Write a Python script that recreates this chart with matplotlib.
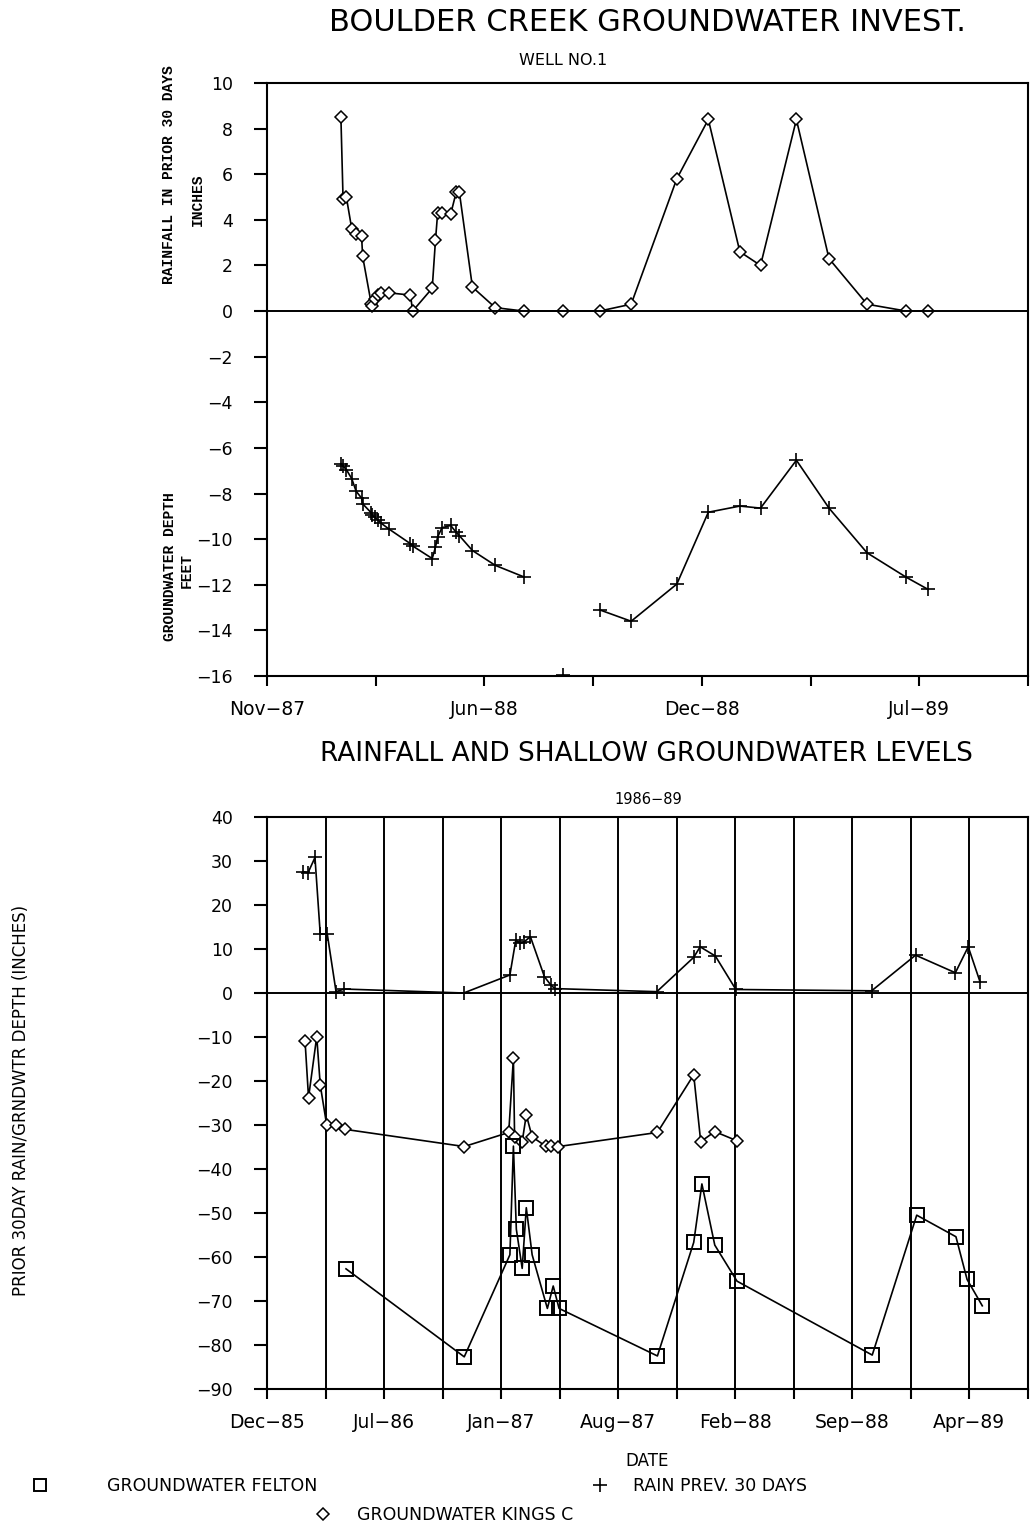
import matplotlib
matplotlib.use("Agg")
import matplotlib.pyplot as plt
import matplotlib.dates as mdates
from matplotlib.lines import Line2D
import numpy as np
import datetime as dt

# ---- top chart: Boulder Creek well no.1 ----
well_dates = ["1988-01-22", "1988-01-24", "1988-01-27", "1988-02-01", "1988-02-05",
              "1988-02-10", "1988-02-11", "1988-02-19", "1988-02-20", "1988-02-22",
              "1988-02-25", "1988-02-28", "1988-03-06", "1988-03-26", "1988-03-28",
              "1988-04-15", "1988-04-18", "1988-04-20", "1988-04-24", "1988-05-02",
              "1988-05-07", "1988-05-10", "1988-05-22", "1988-06-12", "1988-07-08",
              "1988-08-13", "1988-09-16", "1988-10-15", "1988-11-26", "1988-12-25",
              "1989-01-23", "1989-02-11", "1989-03-16", "1989-04-15", "1989-05-20",
              "1989-06-25", "1989-07-15"]
well_rain = [8.5, 4.9, 5.0, 3.6, 3.4, 3.3, 2.4, 0.3, 0.2, 0.55, 0.7, 0.8, 0.8, 0.7, 0.0,
             1.0, 3.1, 4.3, 4.3, 4.25, 5.2, 5.2, 1.05, 0.15, 0.0, 0.0, 0.0, 0.3, 5.8, 8.4,
             2.6, 2.0, 8.4, 2.3, 0.3, 0.0, 0.0]
well_depth = [-6.7, -6.8, -6.95, -7.35, -7.9, -8.2, -8.45, -8.85, -8.95, -9.05, -9.15,
              -9.3, -9.55, -10.2, -10.3, -10.85, -10.35, -9.9, -9.5, -9.4, -9.7, -9.85,
              -10.5, -11.15, -11.65, -15.95, -13.1, -13.6, -11.97, -8.82, -8.55, -8.64,
              -6.54, -8.64, -10.6, -11.67, -12.2]
well_gap = "1988-08-13"   # reading not joined to the line
top_start = dt.date(1987, 11, 15)

# ---- bottom chart: rainfall and shallow groundwater 1986-89 ----
rain_dates = ["1986-02-20", "1986-02-28", "1986-03-12", "1986-03-21", "1986-04-02",
              "1986-04-17", "1986-05-01", "1986-11-21", "1987-02-08", "1987-02-18",
              "1987-02-26", "1987-03-04", "1987-03-15", "1987-04-08", "1987-04-19",
              "1987-04-26", "1987-10-17", "1987-12-19", "1987-12-30", "1988-01-25",
              "1988-02-29", "1988-10-18", "1989-01-01", "1989-03-10", "1989-04-01",
              "1989-04-21"]
rain_30 = [27.6, 27.3, 30.8, 13.4, 13.4, 0.3, 0.9, 0.0, 4.1, 12.0, 11.3, 11.6, 12.8, 3.7,
           1.8, 1.0, 0.3, 8.1, 10.5, 8.4, 0.8, 0.5, 8.6, 4.6, 10.5, 2.6]

kings_dates = ["1986-02-23", "1986-03-01", "1986-03-15", "1986-03-21", "1986-04-01",
               "1986-04-17", "1986-05-03", "1986-11-22", "1987-02-06", "1987-02-14",
               "1987-02-16", "1987-03-01", "1987-03-08", "1987-03-18", "1987-04-10",
               "1987-04-20", "1987-05-02", "1987-10-18", "1987-12-19", "1987-12-31",
               "1988-01-24", "1988-03-02"]
kings_c = [-10.8, -23.8, -9.9, -20.9, -30.0, -30.0, -31.0, -34.9, -31.7, -14.8, -32.7,
           -33.8, -27.7, -32.7, -34.8, -34.8, -34.9, -31.7, -18.6, -33.8, -31.5, -33.6]

felton_dates = ["1986-05-04", "1986-11-22", "1987-02-08", "1987-02-14", "1987-02-19",
                "1987-03-01", "1987-03-08", "1987-03-18", "1987-04-13", "1987-04-23",
                "1987-05-03", "1987-10-18", "1987-12-19", "1988-01-02", "1988-01-24",
                "1988-03-02", "1988-10-19", "1989-01-03", "1989-03-11", "1989-03-30",
                "1989-04-25"]
felton = [-62.7, -82.7, -59.5, -34.8, -53.7, -62.6, -48.8, -59.5, -71.7, -66.6, -71.7,
          -82.5, -56.7, -43.4, -57.3, -65.5, -82.3, -50.5, -55.4, -65.1, -71.1]
bottom_start = dt.date(1985, 12, 20)


def to_num(dates):
    return mdates.datestr2num(dates)


def date_label(v):
    return mdates.num2date(v).strftime("%b-%y").replace("-", "\u2212")


xtick_font = {"family": "DejaVu Sans", "size": 13.5}
ytick_font = {"family": "DejaVu Sans", "size": 12.5}
lbl_font = {"family": "Liberation Mono", "size": 10.5, "weight": "bold"}


def style_axes(ax):
    ax.tick_params(axis="y", direction="out", length=9.5, width=1.5, pad=15)
    ax.tick_params(axis="x", direction="out", length=7, width=1.5, pad=10)
    for s in ax.spines.values():
        s.set_linewidth(1.5)


fig = plt.figure(figsize=(10.3, 15.28), dpi=100)

# ---------------- top axes ----------------
ax1 = fig.add_axes([0.2592, 0.5576, 0.7388, 0.3881])
x1 = to_num(well_dates)
depth = np.array(well_depth)
depth_line = depth.copy()
depth_line[list(well_dates).index(well_gap)] = np.nan

ax1.plot(x1, well_rain, color="black", lw=1.2, marker="D", ms=6.5,
         mfc="white", mec="black", mew=1.1)
ax1.plot(x1, depth_line, color="black", lw=1.2)
ax1.plot(x1, depth, ls="none", marker="+", ms=9.5, mec="black", mew=1.2)
ax1.axhline(0, color="black", lw=1.4)

t0 = mdates.date2num(top_start)
ax1.set_xlim(t0, t0 + 700)
ax1.set_ylim(-16, 10)
xt1 = [t0 + 100 * k for k in range(8)]
ax1.set_xticks(xt1)
ax1.set_xticklabels([date_label(v) if k % 2 == 0 and k < 7 else ""
                     for k, v in enumerate(xt1)], fontdict=xtick_font)
ax1.set_yticks(np.arange(-16, 11, 2))
ax1.set_yticklabels([f"{v:d}".replace("-", "\u2212") for v in range(-16, 11, 2)],
                    fontdict=ytick_font)
style_axes(ax1)

fig.text(0.629, 0.9855, "BOULDER CREEK GROUNDWATER INVEST.", ha="center", va="center",
         fontsize=22, family="DejaVu Sans")
fig.text(0.547, 0.9607, "WELL NO.1", ha="center", va="center", fontsize=11.5,
         family="DejaVu Sans")
fig.text(0.164, 1 - 175 / 1528, "RAINFALL IN PRIOR 30 DAYS", rotation=90,
         ha="center", va="center", **lbl_font)
fig.text(0.192, 1 - 200 / 1528, "INCHES", rotation=90, ha="center", va="center", **lbl_font)
fig.text(0.165, 1 - 567 / 1528, "GROUNDWATER DEPTH", rotation=90, ha="center",
         va="center", **lbl_font)
fig.text(0.1815, 1 - 570 / 1528, "FEET", rotation=90, ha="center", va="center", **lbl_font)

# ---------------- bottom axes ----------------
ax2 = fig.add_axes([0.2592, 0.0910, 0.7388, 0.3743])
b0 = mdates.date2num(bottom_start)
xt2 = [b0 + 100 * k for k in range(14)]
for v in xt2[1:-1]:
    ax2.axvline(v, color="black", lw=1.4, zorder=1)
ax2.axhline(0, color="black", lw=1.4, zorder=1)

ax2.plot(to_num(rain_dates), rain_30, color="black", lw=1.2, marker="+", ms=10,
         mew=1.2, zorder=3)
ax2.plot(to_num(kings_dates), kings_c, color="black", lw=1.2, marker="D", ms=6,
         mfc="white", mec="black", mew=1.1, zorder=3)
ax2.plot(to_num(felton_dates), felton, color="black", lw=1.2, marker="s", ms=10,
         mfc="none", mec="black", mew=1.4, zorder=3)

ax2.set_xlim(b0, b0 + 1300)
ax2.set_ylim(-90, 40)
ax2.set_xticks(xt2)
ax2.set_xticklabels([date_label(v) if k % 2 == 0 and k < 13 else ""
                     for k, v in enumerate(xt2)], fontdict=xtick_font)
ax2.set_yticks(np.arange(-90, 41, 10))
ax2.set_yticklabels([f"{v:d}".replace("-", "\u2212") for v in range(-90, 41, 10)],
                    fontdict=ytick_font)
style_axes(ax2)
ax2.set_xlabel("DATE", fontsize=12, family="DejaVu Sans", labelpad=15)

fig.text(0.628, 1 - 754 / 1528, "RAINFALL AND SHALLOW GROUNDWATER LEVELS", ha="center",
         va="center", fontsize=19, family="DejaVu Sans")
fig.text(0.629, 1 - 800 / 1528, "1986\u221289", ha="center", va="center", fontsize=10.5,
         family="DejaVu Sans")
fig.text(0.020, 1 - 1100 / 1528, "PRIOR 30DAY RAIN/GRNDWTR DEPTH (INCHES)", rotation=90,
         ha="center", va="center", fontsize=12, family="DejaVu Sans")

# legend entries laid out like the original plot
legend_items = [
    (Line2D([], [], ls="none", marker="s", ms=8, mfc="none", mec="black", mew=1.4),
     "GROUNDWATER FELTON", (0.0304, 1 - 1486 / 1528), 3.35),
    (Line2D([], [], ls="none", marker="+", ms=10, mec="black", mew=1.2),
     "RAIN PREV. 30 DAYS", (0.5741, 1 - 1486 / 1528), 1.4),
    (Line2D([], [], ls="none", marker="D", ms=6, mfc="white", mec="black", mew=1.1),
     "GROUNDWATER KINGS C", (0.3051, 1 - 1515 / 1528), 1.45),
]
for h, lab, pos, pad in legend_items:
    fig.legend(handles=[h], labels=[lab], loc="center left", bbox_to_anchor=pos,
               frameon=False, handlelength=1.0, handletextpad=pad, borderpad=0,
               borderaxespad=0, prop={"family": "DejaVu Sans", "size": 12.5})

fig.savefig("out.png", dpi=100)
